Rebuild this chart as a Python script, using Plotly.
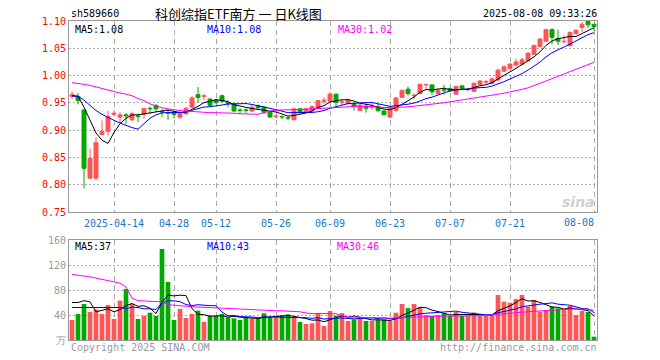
import plotly.graph_objects as go
import pandas as pd

# ---------------- data ----------------
year = "2025"
dates = ["04-02", "04-03", "04-07", "04-08", "04-09", "04-10", "04-11", "04-14", "04-15", "04-16",
         "04-17", "04-18", "04-21", "04-22", "04-23", "04-24", "04-25", "04-28", "04-29", "04-30",
         "05-06", "05-07", "05-08", "05-09", "05-12", "05-13", "05-14", "05-15", "05-16", "05-19",
         "05-20", "05-21", "05-22", "05-23", "05-26", "05-27", "05-28", "05-29", "05-30",
         "06-03", "06-04", "06-05", "06-06", "06-09", "06-10", "06-11", "06-12", "06-13", "06-16",
         "06-17", "06-18", "06-19", "06-20", "06-23", "06-24", "06-25", "06-26", "06-27", "06-30",
         "07-01", "07-02", "07-03", "07-04", "07-07", "07-08", "07-09", "07-10", "07-11", "07-14",
         "07-15", "07-16", "07-17", "07-18", "07-21", "07-22", "07-23", "07-24", "07-25", "07-28",
         "07-29", "07-30", "07-31", "08-01", "08-04", "08-05", "08-06", "08-07", "08-08"]

opens = [0.962, 0.962, 0.937, 0.812, 0.812, 0.892, 0.898, 0.929, 0.924, 0.928,
         0.919, 0.926, 0.929, 0.940, 0.945, 0.934, 0.932, 0.932, 0.924, 0.930,
         0.942, 0.965, 0.962, 0.957, 0.955, 0.963, 0.950, 0.948, 0.937, 0.937,
         0.935, 0.945, 0.942, 0.933, 0.925, 0.925, 0.923, 0.919, 0.939,
         0.933, 0.935, 0.941, 0.953, 0.953, 0.966, 0.951, 0.949, 0.949, 0.936,
         0.944, 0.942, 0.943, 0.935, 0.924, 0.936, 0.960, 0.975, 0.963, 0.967,
         0.983, 0.983, 0.967, 0.974, 0.976, 0.966, 0.981, 0.974, 0.971, 0.984,
         0.988, 0.986, 0.992, 1.008, 1.013, 1.019, 1.021, 1.027, 1.039, 1.053,
         1.063, 1.084, 1.068, 1.062, 1.055, 1.077, 1.088, 1.099, 1.094]
highs = [0.971, 0.968, 0.937, 0.866, 0.887, 0.918, 0.935, 0.936, 0.933, 0.931,
         0.934, 0.930, 0.940, 0.943, 0.948, 0.939, 0.939, 0.936, 0.934, 0.942,
         0.962, 0.979, 0.966, 0.958, 0.957, 0.965, 0.954, 0.949, 0.940, 0.940,
         0.947, 0.947, 0.944, 0.935, 0.929, 0.927, 0.925, 0.940, 0.941,
         0.941, 0.945, 0.955, 0.960, 0.970, 0.966, 0.957, 0.958, 0.950, 0.947,
         0.948, 0.949, 0.948, 0.937, 0.941, 0.961, 0.974, 0.980, 0.968, 0.985,
         0.984, 0.983, 0.976, 0.983, 0.978, 0.982, 0.983, 0.977, 0.987, 0.992,
         0.992, 0.996, 1.013, 1.019, 1.023, 1.031, 1.033, 1.043, 1.057, 1.069,
         1.085, 1.087, 1.084, 1.074, 1.081, 1.085, 1.098, 1.102, 1.094]
lows = [0.957, 0.947, 0.793, 0.810, 0.808, 0.890, 0.890, 0.926, 0.913, 0.912,
        0.916, 0.915, 0.921, 0.930, 0.933, 0.924, 0.919, 0.921, 0.920, 0.928,
        0.941, 0.951, 0.955, 0.944, 0.948, 0.951, 0.942, 0.934, 0.930, 0.931,
        0.933, 0.937, 0.930, 0.923, 0.921, 0.920, 0.918, 0.918, 0.930,
        0.932, 0.934, 0.940, 0.948, 0.952, 0.943, 0.946, 0.947, 0.936, 0.935,
        0.932, 0.937, 0.933, 0.928, 0.922, 0.934, 0.959, 0.963, 0.957, 0.966,
        0.974, 0.964, 0.964, 0.965, 0.970, 0.965, 0.973, 0.971, 0.970, 0.982,
        0.985, 0.985, 0.990, 1.007, 1.012, 1.018, 1.020, 1.026, 1.039, 1.052,
        1.062, 1.057, 1.056, 1.059, 1.053, 1.075, 1.080, 1.087, 1.082]
closes = [0.965, 0.954, 0.830, 0.848, 0.877, 0.898, 0.925, 0.931, 0.928, 0.926,
          0.930, 0.925, 0.940, 0.939, 0.939, 0.933, 0.931, 0.929, 0.930, 0.940,
          0.959, 0.960, 0.963, 0.945, 0.951, 0.953, 0.949, 0.935, 0.936, 0.936,
          0.942, 0.941, 0.933, 0.924, 0.926, 0.924, 0.922, 0.939, 0.933,
          0.939, 0.943, 0.954, 0.955, 0.966, 0.951, 0.952, 0.955, 0.943, 0.946,
          0.940, 0.943, 0.936, 0.928, 0.940, 0.959, 0.973, 0.967, 0.964, 0.984,
          0.984, 0.970, 0.973, 0.973, 0.972, 0.980, 0.976, 0.975, 0.986, 0.990,
          0.989, 0.994, 1.010, 1.016, 1.021, 1.025, 1.029, 1.041, 1.055, 1.067,
          1.084, 1.070, 1.063, 1.063, 1.079, 1.083, 1.094, 1.093, 1.090]
volumes = [32, 41.6, 57.6, 45, 49, 41.6, 56, 33.6, 63, 81.6,
           57.6, 33.6, 38.4, 43.7, 38.4, 145.6, 93, 32, 49.6, 35.2,
           41.6, 47, 28.8, 38.4, 38.4, 41.6, 36.3, 34.7, 32, 36.3,
           34.7, 34.7, 42.7, 36.3, 36.3, 39.5, 41, 36.3, 28.8,
           25.6, 26.7, 42.7, 22.4, 46.4, 39, 43, 30.4, 33, 36.3,
           30.4, 30.4, 32, 33, 30.4, 43.7, 57.6, 51, 57.6, 52,
           40, 38.4, 40, 42.7, 38.4, 44.8, 38.4, 38.4, 44, 38.4,
           38.4, 41.6, 72, 61.3, 59.7, 65.6, 72, 53.3, 64, 45.3,
           48, 53.3, 50.7, 50, 54.4, 40, 46.4, 44.8, 5.3]

# moving-average values at the start of the window (earlier history not shown)
ma5_head = [0.963, 0.962, 0.942, 0.918]
ma10_head = [0.963, 0.962, 0.955, 0.946, 0.936, 0.929, 0.923, 0.918, 0.913]
ma30_head = [0.987, 0.986, 0.984, 0.982, 0.979, 0.976, 0.974, 0.971, 0.968, 0.966,
             0.963, 0.958, 0.954, 0.948, 0.944, 0.941, 0.939, 0.937, 0.936, 0.935,
             0.934, 0.933, 0.933, 0.932, 0.932, 0.932, 0.932, 0.931, 0.930]
vma5_head = [60, 60, 63, 61]
vma10_head = [52, 52, 52, 51, 51, 51, 52, 52, 52]
vma30_head = [105, 104, 103, 101, 99, 97, 95, 93, 91, 85,
              67, 63, 62.4, 62.4, 62, 61, 56.5, 55.5, 54.4, 54,
              53.3, 52.8, 52.3, 52, 51.5, 51, 50.5, 50, 49.5]

tick_dates = ["04-14", "04-28", "05-12", "05-26", "06-09", "06-23", "07-07", "07-21", "08-08"]
tick_texts = ["2025-04-14", "04-28", "05-12", "05-26", "06-09", "06-23", "07-07", "07-21", ""]
last_label = "08-08"
price_ticks = [0.75, 0.80, 0.85, 0.90, 0.95, 1.00, 1.05, 1.10]
vol_ticks = [0, 40, 80, 120, 160]
vol_tick_texts = ["万", "40", "80", "120", "160"]

code = "sh589660"
title = "科创综指ETF南方 一 日K线图"
stamp = "2025-08-08 09:33:26"
price_ma_text = ["MA5:1.08", "MA10:1.08", "MA30:1.02"]
vol_ma_text = ["MA5:37", "MA10:43", "MA30:46"]
copyright_text = "Copyright 2025 SINA.COM"
url_text = "http://finance.sina.com.cn"

# ---------------- helpers ----------------
RED = "#ff5555"
GREEN = "#00a800"
MONO = "DejaVu Sans Mono"
CJK = "Noto Sans CJK SC"
MA_COLORS = ["#000000", "#0000ff", "#ff00ff"]


def moving_average(values, n, head):
    s = pd.Series(values, dtype=float).rolling(n).mean()
    s.iloc[:len(head)] = head
    return s.round(4).tolist()


idx = list(range(len(dates)))
up = [c >= o for o, c in zip(opens, closes)]
colors = [RED if u else GREEN for u in up]

W, H = 660, 360
L, R, T, B = 69, 597, 21, 340
PRICE_BOTTOM, VOL_TOP = 212, 240


def px(x):
    return (x - L) / (R - L)


def py(y):
    return (B - y) / (B - T)


fig = go.Figure()

# wicks (one line trace per colour)
for want, col in [(True, RED), (False, GREEN)]:
    wx, wy = [], []
    for i in idx:
        if up[i] == want:
            wx += [i, i, None]
            wy += [lows[i], highs[i], None]
    fig.add_trace(go.Scatter(x=wx, y=wy, mode="lines", line=dict(color=col, width=1),
                             xaxis="x", yaxis="y", hoverinfo="skip", connectgaps=False))

# bodies
fig.add_trace(go.Bar(
    x=idx, y=[abs(c - o) for o, c in zip(opens, closes)],
    base=[min(o, c) for o, c in zip(opens, closes)],
    width=0.66, marker=dict(color=colors, line=dict(color=colors, width=1)),
    xaxis="x", yaxis="y", hoverinfo="skip"))

for (n, head), col in zip([(5, ma5_head), (10, ma10_head), (30, ma30_head)], MA_COLORS):
    fig.add_trace(go.Scatter(x=idx, y=moving_average(closes, n, head), mode="lines",
                             line=dict(color=col, width=1), xaxis="x", yaxis="y",
                             hoverinfo="skip"))

fig.add_trace(go.Bar(x=idx, y=volumes, marker=dict(color=colors, line=dict(width=0)),
                     width=0.78, xaxis="x2", yaxis="y2", hoverinfo="skip"))

for (n, head), col in zip([(5, vma5_head), (10, vma10_head), (30, vma30_head)], MA_COLORS):
    fig.add_trace(go.Scatter(x=idx, y=moving_average(volumes, n, head), mode="lines",
                             line=dict(color=col, width=1), xaxis="x2", yaxis="y2",
                             hoverinfo="skip"))

tick_idx = [dates.index(d) for d in tick_dates]
border = dict(showline=True, mirror=True, linecolor="#999999", linewidth=1, zeroline=False,
              automargin=False)
xcommon = dict(range=[-0.5, len(dates) - 0.5], tickmode="array", tickvals=tick_idx,
               showgrid=True, gridcolor="#aaaaaa", gridwidth=1, griddash="5px,4px",
               ticks="", **border)

fig.update_layout(
    width=W, height=H, margin=dict(l=L, r=W - R, t=T, b=H - B, autoexpand=False),
    paper_bgcolor="white", plot_bgcolor="white", showlegend=False, barmode="overlay",
    xaxis=dict(anchor="y", ticktext=tick_texts, ticklabelstandoff=2,
               tickfont=dict(family=MONO, size=10, color="#1a75c7"), **xcommon),
    xaxis2=dict(anchor="y2", matches="x", showticklabels=False, **xcommon),
    yaxis=dict(domain=[py(PRICE_BOTTOM), 1], range=[price_ticks[0], price_ticks[-1]],
               tickmode="array", tickvals=price_ticks,
               ticktext=["%.2f" % v for v in price_ticks],
               tickfont=dict(family=MONO, size=10, color="#ff0000"),
               showgrid=True, gridcolor="#aaaaaa", griddash="2px,2px", ticks="", **border),
    yaxis2=dict(domain=[0, py(VOL_TOP)], range=[vol_ticks[0], vol_ticks[-1]],
                tickmode="array", tickvals=vol_ticks, ticktext=vol_tick_texts,
                tickfont=dict(family=MONO, size=10, color="#999999"),
                showgrid=True, gridcolor="#aaaaaa", griddash="2px,2px", ticks="", **border),
)


def note(text, x, y, color="#000000", size=10, family=MONO, xanchor="left", **kw):
    fig.add_annotation(text=text, x=px(x), y=py(y), xref="paper", yref="paper",
                       showarrow=False, xanchor=xanchor, yanchor="middle",
                       font=dict(family=family, size=size, color=color), **kw)


note(code, 69, 13)
note(title, 238, 13, size=13, family=CJK, xanchor="center")
note(stamp, 599, 13, xanchor="right")
for text, x, col in zip(price_ma_text, [73, 205, 336], MA_COLORS):
    note(text, x, 29, color=col)
for text, x, col in zip(vol_ma_text, [73, 205, 335], MA_COLORS):
    note(text, x, 247, color=col)
note(last_label, 596, 222, color="#1a75c7", xanchor="right")
note(copyright_text, 69, 348, color="#999999")
note(url_text, 599, 348, color="#999999", xanchor="right")
fig.add_annotation(text="<b><i>sina</i></b>", x=px(597), y=py(202), xref="paper", yref="paper",
                   showarrow=False, xanchor="right", yanchor="middle",
                   font=dict(family="DejaVu Sans", size=14, color="#d0d0d0"))

fig.write_html("out.html", config={"displayModeBar": False, "staticPlot": True},
               post_script="document.body.style.margin='0px';")
